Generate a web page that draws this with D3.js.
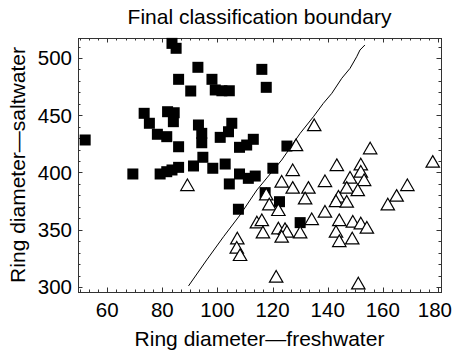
<!DOCTYPE html>
<html>
<head>
<meta charset="utf-8">
<script src="https://cdn.jsdelivr.net/npm/d3@7/dist/d3.min.js"></script>
<style>
  html, body { margin: 0; padding: 0; background: #fff; }
  svg { display: block; }
  text { font-family: "Liberation Sans", Arial, Helvetica, sans-serif; fill: #000; }
</style>
</head>
<body>
<svg id="chart" width="453" height="353"></svg>
<script>
// Saltwater-origin fish (filled squares): [freshwater ring, saltwater ring]
const saltwaterFish = [
  [83.5,512.8],[85.0,508.5],[92.9,491.9],[85.9,481.4],[90.3,471.2],
  [73.4,451.7],[81.9,453.1],[84.3,452.2],[84.0,444.4],[75.3,443.0],
  [78.2,433.4],[81.6,431.3],[52.0,428.4],[85.9,422.5],[69.3,398.7],
  [79.2,398.7],[81.6,400.7],[83.5,402.2],[85.9,404.5],[91.3,405.7],
  [116.1,490.1],[117.7,474.4],[98.0,481.4],[99.2,472.1],[101.6,471.4],
  [104.3,471.4],[93.1,441.5],[105.2,443.0],[94.3,434.2],[104.0,435.6],
  [101.0,430.7],[94.3,426.0],[113.0,429.0],[110.6,424.0],[108.0,422.0],
  [125.2,423.1],[94.7,413.3],[98.3,403.7],[102.8,407.4],[104.3,390.0],
  [108.0,398.7],[111.2,394.9],[113.7,396.9],[120.1,403.7],[117.3,382.4],
  [122.5,374.5],[107.6,367.9],[130.0,356.2]
];

// Freshwater-origin fish (open triangles)
const freshwaterFish = [
  [89.1,387.6],[135.1,440.0],[128.5,422.5],[127.3,400.7],[123.3,390.6],
  [127.3,385.3],[133.0,385.3],[131.8,376.0],[117.7,379.5],[118.8,370.7],
  [122.1,365.8],[114.3,355.0],[116.1,357.0],[116.5,346.3],[122.1,349.8],
  [124.5,349.2],[125.2,346.9],[123.3,342.5],[130.0,346.3],[134.2,357.9],
  [107.2,341.0],[107.0,332.9],[108.2,326.5],[121.3,307.6],[155.4,419.7],
  [178.1,408.0],[143.3,405.1],[152.0,405.7],[152.0,399.3],[153.2,392.0],
  [148.1,394.1],[139.0,391.1],[146.9,385.3],[150.9,383.2],[143.9,377.5],
  [143.0,373.6],[146.9,373.1],[168.9,387.6],[165.0,378.3],[161.8,370.7],
  [139.0,364.4],[144.2,357.0],[149.1,355.6],[152.0,354.1],[154.2,350.4],
  [143.0,346.9],[144.2,338.7],[148.9,341.0],[151.1,301.7]
];

// Decision boundary traced through the feature plane
const boundary = [
  [89.5,300.9],[96.1,323.6],[102.2,343.9],[108.2,362.9],[114.3,384.7],
  [123.3,410.9],[130.0,434.2],[134.8,448.7],[138.4,460.4],[141.5,469.2],
  [145.1,482.3],[148.1,491.0],[150.5,501.1],[151.7,507.0],[153.5,511.4]
];

const xTicks = [60, 80, 100, 120, 140, 160, 180];
const yTicks = [300, 350, 400, 450, 500];

const titleText = "Final classification boundary";
const xLabel = "Ring diameter\u2014freshwater";
const yLabel = "Ring diameter\u2014saltwater";

const W = 453;
const svg = d3.select("#chart");
const frame = { left: 78, right: 441, top: 38, bottom: 292 };

const x = d3.scaleLinear().domain([49.4, 181.1]).range([frame.left, frame.right]);
const y = d3.scaleLinear().domain([295.6, 517.5]).range([frame.bottom, frame.top]);

// minor tick values
const xMinor = d3.range(0, 60).map(i => 40 + i * 20 / 6)
  .filter(v => v > x.domain()[0] && v < x.domain()[1]);
const yMinor = d3.range(290, 521, 10)
  .filter(v => v > y.domain()[0] && v < y.domain()[1]);

const frameColor = "#333";

// frame
svg.append("rect")
  .attr("x", frame.left + 0.5).attr("y", frame.top + 0.5)
  .attr("width", frame.right - frame.left).attr("height", frame.bottom - frame.top)
  .attr("fill", "none").attr("stroke", frameColor).attr("stroke-width", 1);

// inward ticks on all four sides
const tickG = svg.append("g").attr("stroke", frameColor).attr("stroke-width", 1);
function xTickMarks(vals, len) {
  vals.forEach(v => {
    const px = Math.round(x(v)) + 0.5;
    tickG.append("line").attr("x1", px).attr("x2", px).attr("y1", frame.bottom).attr("y2", frame.bottom - len);
    tickG.append("line").attr("x1", px).attr("x2", px).attr("y1", frame.top).attr("y2", frame.top + len);
  });
}
function yTickMarks(vals, len) {
  vals.forEach(v => {
    const py = Math.round(y(v)) + 0.5;
    tickG.append("line").attr("y1", py).attr("y2", py).attr("x1", frame.left).attr("x2", frame.left + len);
    tickG.append("line").attr("y1", py).attr("y2", py).attr("x1", frame.right).attr("x2", frame.right - len);
  });
}
xTickMarks(xMinor, 2.5);
xTickMarks(xTicks, 4.5);
yTickMarks(yMinor, 2.5);
yTickMarks(yTicks, 4.5);

// tick labels; keep the last one inside the page edge
svg.append("g").selectAll("text").data(xTicks).join("text")
  .attr("y", 317)
  .attr("text-anchor", "middle").attr("font-size", 20.5)
  .text(d => d)
  .attr("x", function (d) {
    const half = this.getComputedTextLength() / 2;
    return Math.min(x(d), W - 1 - half);
  });
svg.append("g").selectAll("text").data(yTicks).join("text")
  .attr("x", 72).attr("y", d => y(d) + 7.3)
  .attr("text-anchor", "end").attr("font-size", 20.5)
  .text(d => d);

// titles
svg.append("text").attr("x", (frame.left + frame.right) / 2).attr("y", 24)
  .attr("text-anchor", "middle").attr("font-size", 21).text(titleText);
svg.append("text").attr("x", (frame.left + frame.right) / 2).attr("y", 346)
  .attr("text-anchor", "middle").attr("font-size", 21).text(xLabel);
svg.append("text")
  .attr("transform", `translate(25,${(frame.top + frame.bottom) / 2}) rotate(-90)`)
  .attr("text-anchor", "middle").attr("font-size", 21).text(yLabel);

// boundary curve
svg.append("path")
  .datum(boundary)
  .attr("fill", "none").attr("stroke", "#000").attr("stroke-width", 1)
  .attr("d", d3.line().x(d => x(d[0])).y(d => y(d[1])));

// squares
const sq = 11;
svg.append("g").selectAll("rect").data(saltwaterFish).join("rect")
  .attr("x", d => x(d[0]) - sq / 2).attr("y", d => y(d[1]) - sq / 2)
  .attr("width", sq).attr("height", sq).attr("fill", "#000");

// triangles
const tri = d3.symbol().type(d3.symbolTriangle).size(78);
svg.append("g").selectAll("path").data(freshwaterFish).join("path")
  .attr("transform", d => `translate(${x(d[0])},${y(d[1])})`)
  .attr("d", tri)
  .attr("fill", "#fff").attr("stroke", "#000").attr("stroke-width", 1.2);
</script>
</body>
</html>
